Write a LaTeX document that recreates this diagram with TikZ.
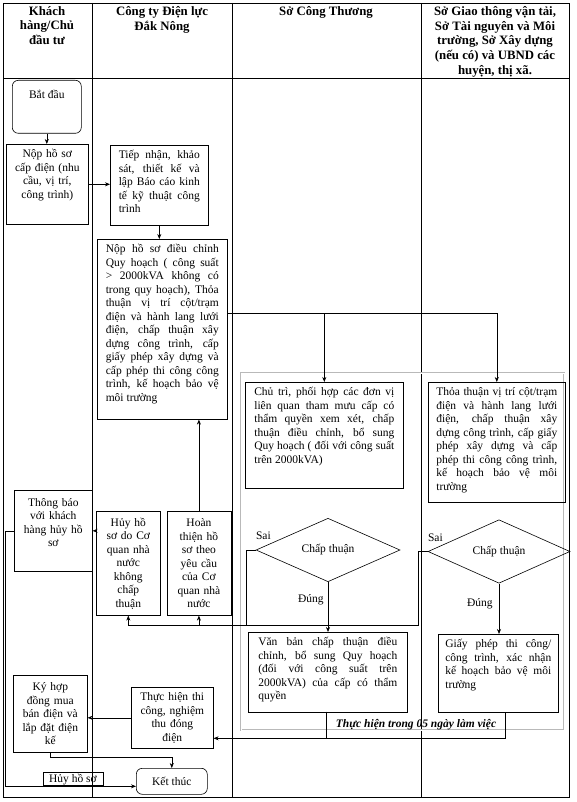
\documentclass[tikz,border=0pt]{standalone}
\usepackage{fontspec}
\setmainfont{Liberation Serif}
\usetikzlibrary{positioning,arrows.meta,calc,shapes.geometric}
\hyphenpenalty=10000
\exhyphenpenalty=10000

\begin{document}
\begin{tikzpicture}[
  x=1pt,y=-1pt,line width=0.6pt,
  >={Stealth[length=5pt,width=4pt]},
  proc/.style={rectangle,draw,inner xsep=3pt,inner ysep=4pt,
               font=\fontsize{11.5}{13.5}\selectfont},
  jbox/.style={proc,anchor=north west,align=justify},
  cbox/.style={proc,anchor=north west,align=center},
  topbox/.style={text height=9.5pt,text depth=#1},
  endbox/.style={proc,rounded corners=6pt,align=center},
  decide/.style={diamond,draw,inner sep=0pt,font=\fontsize{11.5}{13.5}\selectfont},
  lane/.style={anchor=north,align=center,inner sep=2pt,
               font=\fontsize{12.8}{14.8}\selectfont\bfseries},
  lbl/.style={inner sep=1pt,font=\fontsize{11.5}{13.5}\selectfont}
]
\useasboundingbox (0,0) rectangle (576,802);

% swimlanes
\draw (3,3) rectangle (569,797);
\draw (3,78) -- (569,78);
\foreach \xx in {92,232,421}
  \draw (\xx,3) -- (\xx,797);
\node[lane] (hd1) at (47,4) {Khách\\hàng/Chủ\\đầu tư};
\node[lane] (hd2) at (162,4) {Công ty Điện lực\\Đắk Nông};
\node[lane] (hd3) at (326,4) {Sở Công Thương};
\node[lane] (hd4) at (495,4) {Sở Giao thông vận tải,\\Sở Tài nguyên và Môi\\trường, Sở Xây dựng\\(nếu có) và UBND các\\huyện, thị xã.};

% 05-day frame
\draw[gray!55,double=white,double distance=0.8pt,line width=0.5pt] (241,373) rectangle (564,730);

\node[endbox,anchor=north west,minimum width=69pt,text height=14pt,text depth=31pt] (batdau) at (12,80) {Bắt đầu};
\node[cbox,text width=76pt,topbox=62.5pt] (nop) at (6,144) {Nộp hồ sơ\\cấp điện (nhu\\cầu, vị trí,\\công trình)};
\node[jbox,text width=81pt,minimum width=98pt,topbox=62.5pt] (tiepnhan) at (110,145)
  {Tiếp nhận, khảo\linebreak sát, thiết kế và\linebreak lập Báo cáo kinh\linebreak tế kỹ thuật công\linebreak trình};
\node[jbox,text width=113pt,minimum width=130pt,topbox=162.5pt] (hoso) at (97,239)
  {Nộp hồ sơ điều chỉnh\linebreak Quy hoạch ( công suất\linebreak > 2000kVA không có\linebreak trong quy hoạch), Thỏa\linebreak thuận vị trí cột/trạm\linebreak điện và hành lang lưới\linebreak điện, chấp thuận xây\linebreak dựng công trình, cấp\linebreak giấy phép xây dựng và\linebreak cấp phép thi công công\linebreak trình, kế hoạch bảo vệ\linebreak môi trường};
\node[jbox,text width=140pt,minimum width=158pt,topbox=88.5pt] (chutri) at (245,382)
  {Chủ trì, phối hợp các đơn vị\linebreak liên quan tham mưu cấp có\linebreak thẩm quyền xem xét, chấp\linebreak thuận điều chỉnh, bổ sung\linebreak Quy hoạch ( đối với công suất\linebreak trên 2000kVA)};
\node[jbox,text width=121pt,minimum width=137pt,topbox=102.5pt] (thoathuan) at (428,382)
  {Thỏa thuận vị trí cột/trạm\linebreak điện và hành lang lưới\linebreak điện, chấp thuận xây\linebreak dựng công trình, cấp giấy\linebreak phép xây dựng và cấp\linebreak phép thi công công trình,\linebreak kế hoạch bảo vệ môi\linebreak trường};
\node[decide,minimum width=144pt,minimum height=44pt] (cap1) at (328,550) {Chấp thuận};
\node[decide,minimum width=142pt,minimum height=43pt] (cap2) at (499,551.5) {Chấp thuận};
\node[lbl,anchor=south west] (sai1) at ([xshift=-1pt,yshift=9pt]cap1.west) {Sai};
\node[lbl,anchor=south west] (sai2) at ([xshift=-1pt,yshift=9pt]cap2.west) {Sai};
\node[jbox,text width=139pt,minimum width=159pt,topbox=62.5pt] (vanban) at (248,632)
  {Văn bản chấp thuận điều\linebreak chỉnh, bổ sung Quy hoạch\linebreak (đối với công suất trên\linebreak 2000kVA) của cấp có thẩm\linebreak quyền};
\node[jbox,text width=106pt,minimum width=120pt,topbox=60.5pt] (giayphep) at (438,634)
  {Giấy phép thi công/\linebreak công trình, xác nhận\linebreak kế hoạch bảo vệ môi\linebreak trường};
\node[cbox,text width=72pt,text height=12pt,text depth=61pt] (thongbao) at (14,490) {Thông báo\\với khách\\hàng hủy hồ\\sơ};
\node[cbox,text width=58pt,minimum height=104pt] (huy) at (96,511) {Hủy hồ\\sơ do Cơ\\quan nhà\\nước\\không\\chấp\\thuận};
\node[cbox,text width=58pt,minimum height=104pt,right=6pt of huy] (hoanthien) {Hoàn\\thiện hồ\\sơ theo\\yêu cầu\\của Cơ\\quan nhà\\nước};
\node[cbox,text width=76pt,minimum height=61pt] (thuchien) at (131,687) {Thực hiện thi\\công, nghiệm\\thu đóng\\điện};
\node[cbox,text width=68pt,minimum height=77pt] (kyhd) at (13,675) {Ký hợp\\đồng mua\\bán điện và\\lắp đặt điện\\kế};
\node[endbox,anchor=north west,minimum width=71pt,minimum height=26pt] (ketthuc) at (136,768) {Kết thúc};
\node[lbl,draw,minimum width=60pt,minimum height=13pt,anchor=south] (lblhuy) at (73,786) {Hủy hồ sơ};
\node[lbl,minimum width=178pt,minimum height=26pt,font=\fontsize{11.5}{13.5}\selectfont\bfseries\itshape] (lbl05) at (416,725) {Thực hiện trong 05 ngày làm việc};

% connectors
\draw[->] (batdau.south) -- (batdau.south |- nop.north);
\draw[->] (nop.east) -- (nop.east -| tiepnhan.west);
\draw[->] (tiepnhan.south) -- (tiepnhan.south |- hoso.north);
\coordinate (split) at ([yshift=16pt]hoso.east);
\draw[->] (split) -| (thoathuan.north);
\draw[->] (split -| chutri.north) -- (chutri.north);
\draw[->] (cap1.south) -- node[lbl,left=3pt,pos=0.35]{Đúng} (cap1.south |- vanban.north);
\draw[->] (cap2.south) -- node[lbl,left=5pt,pos=0.4]{Đúng} (cap2.south |- giayphep.north);
% Sai branches back to the lane of Dak Nong
\coordinate (sairow) at (0,625);
\draw (cap1.west) -- ++(-9,0) |- (sairow -| huy.south);
\draw (cap2.west) -- ++(-9,0) |- ([xshift=-9pt]sairow -| cap1.west);
\draw[->] (sairow -| huy.south) -- (huy.south);
\draw[->] (sairow -| hoanthien.south) -- (hoanthien.south);
\draw[->] (hoanthien.north) -- (hoanthien.north |- hoso.south);
\draw[->] (huy.west |- thongbao.east) -- (thongbao.east);
\draw[->] (thongbao.west) -- ++(-9,0) |- ([yshift=-5pt]ketthuc.west);
\draw[->] (kyhd.south) -- ++(0,5) -| (ketthuc.north);
\draw[->] (thuchien.west) -- (thuchien.west -| kyhd.east);
\draw (lbl05.north west) |- (lbl05.south east) -- (lbl05.north east);
\draw[->] (lbl05.south west) -- (lbl05.south west -| thuchien.east);
\end{tikzpicture}
\end{document}
